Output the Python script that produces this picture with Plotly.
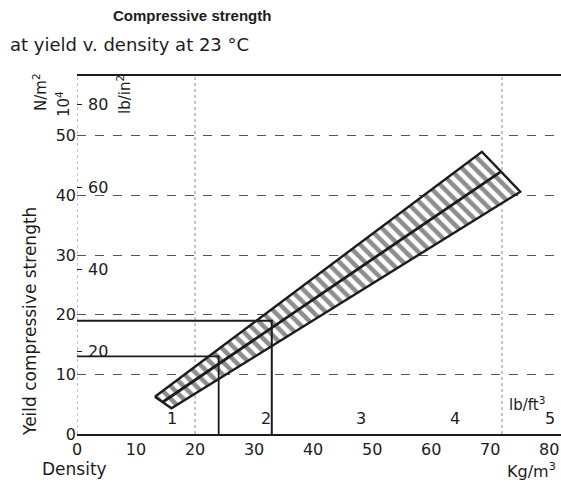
import plotly.graph_objects as go

# ---------------- data ----------------
density_ticks = [0, 10, 20, 30, 40, 50, 60, 70, 80]          # kg/m3
strength_ticks = [0, 10, 20, 30, 40, 50]                     # 10^4 N/m2
psi_ticks = [20, 40, 60, 80]                                 # lb/in2
lbft3_ticks = [1, 2, 3, 4, 5]                                # lb/ft3
PSI_TO_1E4_NM2 = 0.689476
LBFT3_TO_KGM3 = 16.0185

# hatched band (upper and lower edge end points) and centre line
band_upper_x = [13.2, 68.6]
band_upper_y = [6.25, 47.3]
band_lower_x = [16.0, 75.1]
band_lower_y = [4.3, 40.6]
center_x = [14.6, 71.7]
center_y = [5.4, 43.9]

# read-off guide lines
ref_hi_x = [0, 33, 33]
ref_hi_y = [19, 19, 0]
ref_lo_x = [0, 24, 24]
ref_lo_y = [13, 13, 0]

# faint vertical grid lines
vgrid_x = [0, 20, 72]

X_MAX = 82
Y_MAX = 60

FONT = "DejaVu Sans, Verdana, sans-serif"
TFONT = "Liberation Sans, Arial, sans-serif"
INK = "#1c1c1c"

fig = go.Figure()

for v in vgrid_x:
    fig.add_trace(go.Scatter(x=[v, v], y=[0, Y_MAX], mode="lines",
                             line=dict(color="#8a8a8a", width=1, dash="dot"),
                             hoverinfo="skip"))

band_x = band_upper_x + band_lower_x[::-1] + band_upper_x[:1]
band_y = band_upper_y + band_lower_y[::-1] + band_upper_y[:1]
fig.add_trace(go.Scatter(
    x=band_x, y=band_y, mode="lines", fill="toself", fillcolor="white",
    fillpattern=dict(shape="\\", size=9, solidity=0.5, fgcolor=INK, bgcolor="white"),
    line=dict(color=INK, width=2.4)))

fig.add_trace(go.Scatter(x=center_x, y=center_y, mode="lines",
                         line=dict(color=INK, width=2.8)))
fig.add_trace(go.Scatter(x=ref_hi_x, y=ref_hi_y, mode="lines",
                         line=dict(color=INK, width=2)))
fig.add_trace(go.Scatter(x=ref_lo_x, y=ref_lo_y, mode="lines",
                         line=dict(color=INK, width=1.8)))

# carrier for the lb/in2 tick marks
fig.add_trace(go.Scatter(x=[None], y=[None], xaxis="x", yaxis="y2", showlegend=False))

fig.update_layout(
    width=561, height=486,
    margin=dict(l=77, r=0, t=76, b=52),
    paper_bgcolor="white", plot_bgcolor="white",
    showlegend=False,
    font=dict(family=FONT, color=INK, size=16),
    xaxis=dict(range=[0, X_MAX], tickvals=density_ticks, ticks="",
               showgrid=False, zeroline=False,
               showline=True, mirror=True, linecolor=INK, linewidth=2,
               tickfont=dict(size=16)),
    yaxis=dict(range=[0, Y_MAX], tickvals=strength_ticks, ticks="",
               showgrid=True, gridcolor="#555555", griddash="dash", gridwidth=1,
               zeroline=False, showline=False, tickfont=dict(size=16)),
    yaxis2=dict(overlaying="y", anchor="x", side="left",
                range=[0, Y_MAX / PSI_TO_1E4_NM2], tickvals=psi_ticks,
                showticklabels=False, ticks="inside", ticklen=5,
                tickcolor=INK, showgrid=False, zeroline=False, showline=False),
)

W, H = 484.0, 358.0
def px(xp):
    return (xp - 77) / W
def py(yp):
    return (434 - yp) / H

# lb/in2 scale labels (positioned on the N/m2 axis by unit conversion)
for v in psi_ticks:
    fig.add_annotation(text=str(v), x=px(86), xref="paper", xanchor="left",
                       y=v * PSI_TO_1E4_NM2, yref="y", yanchor="middle",
                       showarrow=False, font=dict(family=FONT, size=16, color=INK))
# lb/ft3 scale labels (positioned on the kg/m3 axis by unit conversion)
for v in lbft3_ticks:
    fig.add_annotation(text=str(v), x=v * LBFT3_TO_KGM3, xref="x", xanchor="center",
                       y=py(418), yref="paper", yanchor="middle",
                       showarrow=False, font=dict(family=FONT, size=16, color=INK))

annots = [
    dict(text="Compressive strength", x=px(192), y=py(15), size=15, bold=True, fam=TFONT),
    dict(text="at yield v. density at 23 °C", x=px(8), y=py(45), size=18, xanchor="left"),
    dict(text="Yeild compressive strength", x=px(30), y=py(322), size=17, angle=-90),
    dict(text="N/m<sup>2</sup>", x=px(40), y=py(92), size=15, angle=-90),
    dict(text="10<sup>4</sup>", x=px(63), y=py(104), size=15, angle=-90),
    dict(text="lb/in<sup>2</sup>", x=px(124), y=py(95), size=15, angle=-90),
    dict(text="Density", x=px(40), y=py(469), size=17, xanchor="left"),
    dict(text="Kg/m<sup>3</sup>", x=px(558), y=py(470), size=16, xanchor="right"),
    dict(text="lb/ft<sup>3</sup>", x=px(527), y=py(404), size=15),
]
for a in annots:
    txt = a["text"]
    if a.get("bold"):
        txt = "<b>" + txt + "</b>"
    fig.add_annotation(text=txt, x=a["x"], y=a["y"], xref="paper", yref="paper",
                       showarrow=False, textangle=a.get("angle", 0),
                       xanchor=a.get("xanchor", "center"), yanchor="middle",
                       font=dict(family=a.get("fam", FONT), size=a["size"], color=INK))

fig.write_html("out.html")
